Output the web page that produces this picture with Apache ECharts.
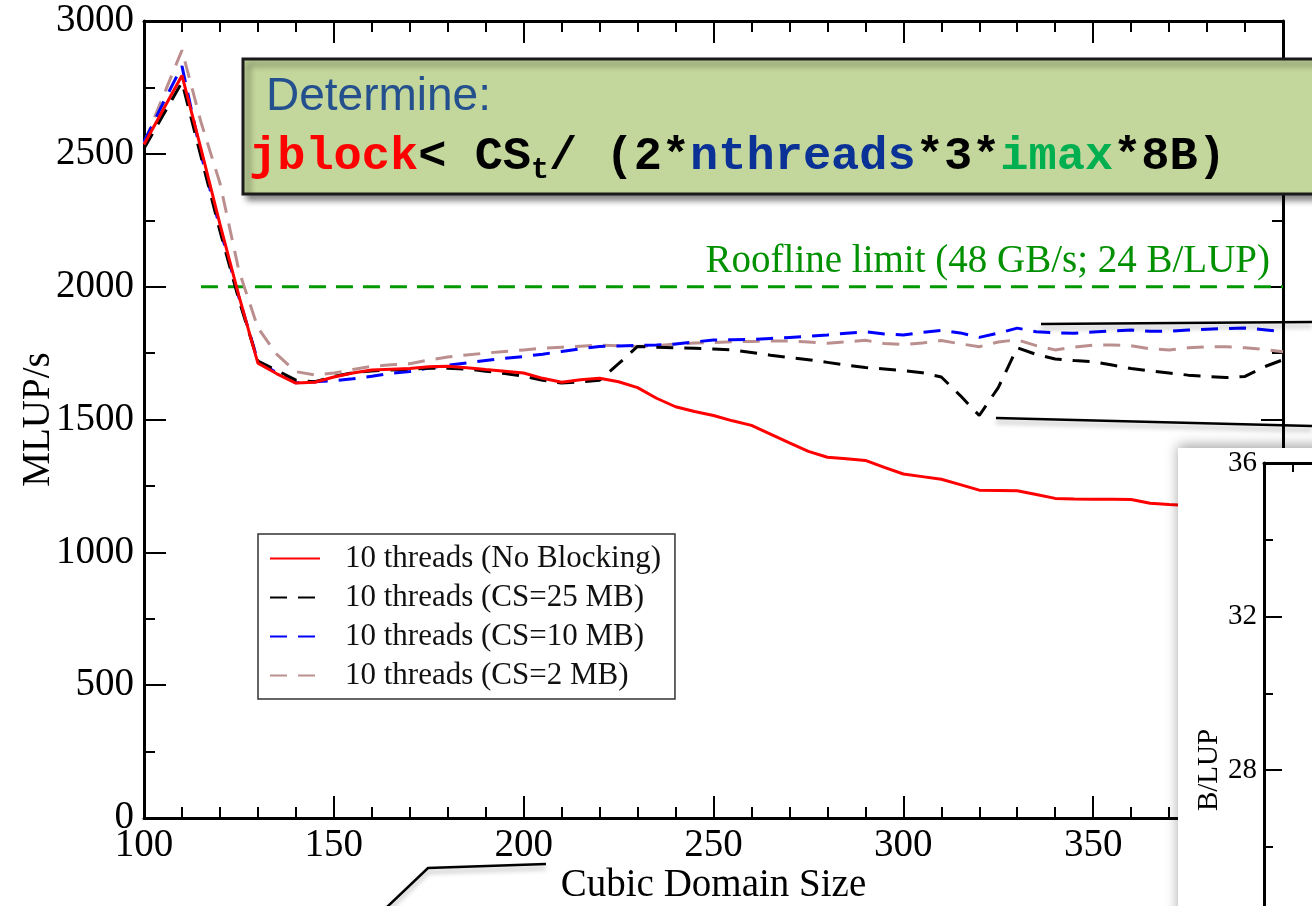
<!DOCTYPE html>
<html>
<head>
<meta charset="utf-8">
<style>
  html, body { margin: 0; padding: 0; background: #fff; }
  #chart { width: 1312px; height: 906px; }
</style>
<script src="https://cdn.jsdelivr.net/npm/echarts@6/dist/echarts.min.js"></script>
</head>
<body>
<div id="chart"></div>
<script>
// cubic domain sizes (x), every 5
const sizes = [
  100, 105, 110, 115, 120, 125, 130, 135, 140, 145, 150, 155, 160, 165, 170, 175,
  180, 185, 190, 195, 200, 205, 210, 215, 220, 225, 230, 235, 240, 245, 250, 255,
  260, 265, 270, 275, 280, 285, 290, 295, 300, 305, 310, 315, 320, 325, 330, 335,
  340, 345, 350, 355, 360, 365, 370, 375, 380, 385, 390, 395, 400
]

// MLUP/s
const noBlocking = [
  2535, 2665, 2795, 2520, 2235, 1965, 1712, 1672, 1637, 1640, 1660, 1675, 1686, 1689, 1692, 1699,
  1700, 1695, 1688, 1682, 1675, 1655, 1640, 1650, 1655, 1642, 1620, 1580, 1548, 1530, 1515, 1495,
  1478, 1445, 1412, 1380, 1358, 1352, 1346, 1320, 1295, 1285, 1275, 1255, 1234, 1233, 1232, 1218,
  1203, 1201, 1200, 1200, 1199, 1185, 1180, 1176
]
const cs25 = [
  2520, 2645, 2770, 2490, 2210, 1950, 1720, 1685, 1648, 1642, 1662, 1676, 1683, 1686, 1690, 1693,
  1693, 1690, 1682, 1673, 1663, 1648, 1637, 1642, 1648, 1710, 1775, 1772, 1770, 1768, 1765, 1762,
  1752, 1742, 1733, 1725, 1715, 1705, 1696, 1690, 1684, 1676, 1660, 1590, 1515, 1620, 1770, 1745,
  1728, 1722, 1718, 1705, 1692, 1683, 1675, 1667, 1662, 1658, 1662, 1698, 1725
]
const cs10 = [
  2545, 2690, 2830, 2500, 2220, 1960, 1720, 1675, 1638, 1642, 1646, 1653, 1663, 1674, 1681, 1694,
  1704, 1713, 1722, 1730, 1737, 1746, 1756, 1766, 1775, 1777, 1779, 1780, 1784, 1792, 1799, 1800,
  1801, 1805, 1809, 1813, 1818, 1825, 1830, 1822, 1818, 1828, 1835, 1826, 1809, 1825, 1844, 1830,
  1826, 1825, 1829, 1833, 1837, 1832, 1832, 1837, 1840, 1842, 1844, 1838, 1830
]
const cs2 = [
  2540, 2715, 2890, 2620, 2390, 2060, 1845, 1745, 1680, 1668, 1675, 1688, 1700, 1706, 1710, 1724,
  1735, 1743, 1750, 1756, 1762, 1768, 1772, 1776, 1780, 1778, 1775, 1778, 1784, 1788, 1790, 1793,
  1794, 1795, 1796, 1792, 1787, 1792, 1798, 1786, 1782, 1788, 1797, 1785, 1774, 1792, 1800, 1778,
  1762, 1772, 1780, 1780, 1778, 1766, 1762, 1770, 1774, 1774, 1770, 1764, 1755
]

// roofline: 48 GB/s at 24 B/LUP
const rooflineX = [115, 400]
const rooflineY = [2000, 2000]

const seriesNames = [
  '10 threads (No Blocking)',
  '10 threads (CS=25 MB)',
  '10 threads (CS=10 MB)',
  '10 threads (CS=2 MB)',
]

const serif = '"Liberation Serif", "Times New Roman", serif'
const mono = '"Liberation Mono", "Courier New", monospace'

function pairs(xs, ys) {
  return ys.map((v, i) => [xs[i], v])
}

function frameAxis(extra) {
  return Object.assign({
    type: 'value',
    axisLine: { onZero: false, lineStyle: { color: '#000', width: 3 } },
    axisTick: { inside: true, length: 22, lineStyle: { color: '#000', width: 2 } },
    minorTick: { show: true, length: 11, lineStyle: { color: '#000', width: 2 } },
    splitLine: { show: false },
    minorSplitLine: { show: false },
    axisLabel: { color: '#000', fontFamily: serif, fontSize: 39, formatter: (v) => String(v) },
  }, extra)
}

function lineSeries(name, vals, color, dashed) {
  return {
    name,
    type: 'line',
    xAxisIndex: 0,
    yAxisIndex: 0,
    data: pairs(sizes, vals),
    symbol: 'none',
    smooth: false,
    lineStyle: { color, width: 3, type: dashed ? [17, 11] : 'solid' },
    itemStyle: { color },
  }
}

function richStyle(size, color) {
  return { fontFamily: mono, fontWeight: 'bold', fontSize: size, lineHeight: size > 40 ? 56 : 30, fill: color }
}

const chart = echarts.init(document.getElementById('chart'))

chart.setOption({
  backgroundColor: '#ffffff',
  animation: false,
  grid: [
    { left: 144, right: 29, top: 21, bottom: 88, outerBoundsMode: 'none', containLabel: false },
    { left: 1264, top: 463, width: 348, height: 614, outerBoundsMode: 'none', containLabel: false },
  ],
  legend: {
    orient: 'vertical',
    left: 258,
    top: 534,
    data: seriesNames,
    itemWidth: 50,
    itemHeight: 14,
    itemGap: 8,
    padding: [9, 14, 8, 11],
    borderColor: '#333',
    borderWidth: 1.5,
    backgroundColor: '#fff',
    selectedMode: false,
    itemStyle: { opacity: 0 },
    textStyle: { fontFamily: serif, fontSize: 31, color: '#111', lineHeight: 31, padding: [0, 0, 0, 20] },
  },
  xAxis: [
    frameAxis({
      gridIndex: 0, position: 'bottom', min: 100, max: 400, interval: 50,
      minorTick: { show: true, splitNumber: 5, length: 11, lineStyle: { color: '#000', width: 2 } },
      axisLabel: { color: '#000', fontFamily: serif, fontSize: 39, margin: 8, formatter: (v) => String(v) },
      name: 'Cubic Domain Size', nameLocation: 'middle', nameGap: 48, nameMoveOverlap: false,
      nameTextStyle: { color: '#000', fontFamily: serif, fontSize: 39 },
    }),
    frameAxis({
      gridIndex: 0, position: 'top', min: 100, max: 400, interval: 50,
      minorTick: { show: true, splitNumber: 5, length: 11, lineStyle: { color: '#000', width: 2 } },
      axisLabel: { show: false },
    }),
    frameAxis({
      gridIndex: 1, position: 'top', min: 100, max: 400, interval: 50, z: 20,
      axisTick: { inside: true, length: 18, lineStyle: { color: '#000', width: 2 } },
      minorTick: { show: true, splitNumber: 2, length: 9, lineStyle: { color: '#000', width: 2 } },
      axisLabel: { show: false },
    }),
  ],
  yAxis: [
    frameAxis({
      gridIndex: 0, position: 'left', min: 0, max: 3000, interval: 500,
      minorTick: { show: true, splitNumber: 2, length: 11, lineStyle: { color: '#000', width: 2 } },
      axisLabel: { color: '#000', fontFamily: serif, fontSize: 39, margin: 10, formatter: (v) => String(v) },
      name: 'MLUP/s', nameLocation: 'middle', nameGap: 86, nameMoveOverlap: false,
      nameTextStyle: { color: '#000', fontFamily: serif, fontSize: 39 },
    }),
    frameAxis({
      gridIndex: 0, position: 'right', min: 0, max: 3000, interval: 500,
      minorTick: { show: true, splitNumber: 2, length: 11, lineStyle: { color: '#000', width: 2 } },
      axisLabel: { show: false },
    }),
    frameAxis({
      gridIndex: 1, position: 'left', min: 20, max: 36, interval: 4, z: 20,
      axisTick: { inside: true, length: 18, lineStyle: { color: '#000', width: 2 } },
      minorTick: { show: true, splitNumber: 2, length: 9, lineStyle: { color: '#000', width: 2 } },
      axisLabel: { color: '#000', fontFamily: serif, fontSize: 29, margin: 7, formatter: (v) => String(v) },
      name: 'B/LUP', nameLocation: 'middle', nameGap: 40, nameMoveOverlap: false,
      nameTextStyle: { color: '#000', fontFamily: serif, fontSize: 29 },
    }),
  ],
  series: [
    {
      name: 'Roofline',
      type: 'line',
      data: pairs(rooflineX, rooflineY),
      symbol: 'none',
      lineStyle: { color: '#009a00', width: 3, type: [17, 10] },
    },
    lineSeries(seriesNames[3], cs2, '#bc8f8f', true),
    lineSeries(seriesNames[2], cs10, '#0000ff', true),
    lineSeries(seriesNames[1], cs25, '#000000', true),
    lineSeries(seriesNames[0], noBlocking, '#ff0000', false),
  ],
  graphic: [
    // white panel of the B/LUP inset covering the lower right
    {
      type: 'rect', z: 10,
      shape: { x: 1178, y: 448, width: 200, height: 500 },
      style: { fill: '#fff', shadowBlur: 12, shadowOffsetY: -3, shadowColor: 'rgba(0,0,0,0.35)' },
    },
    {
      type: 'text', z: 12,
      style: {
        text: 'Roofline limit (48 GB/s; 24 B/LUP)', x: 1270, y: 262,
        align: 'right', verticalAlign: 'middle',
        font: '39px "Liberation Serif", serif', fill: '#009000',
      },
    },
    // callout lines
    {
      type: 'polyline', z: 35,
      shape: { points: [[1041, 324], [1312, 322]] },
      style: { stroke: '#000', lineWidth: 2.5, shadowBlur: 5, shadowOffsetY: 4, shadowColor: 'rgba(0,0,0,0.3)' },
    },
    {
      type: 'polyline', z: 35,
      shape: { points: [[996, 418], [1312, 426]] },
      style: { stroke: '#000', lineWidth: 2.5, shadowBlur: 5, shadowOffsetY: 4, shadowColor: 'rgba(0,0,0,0.3)' },
    },
    {
      type: 'polyline', z: 35,
      shape: { points: [[386, 908], [428, 868], [546, 864]] },
      style: { stroke: '#000', lineWidth: 2.5, shadowBlur: 5, shadowOffsetY: 4, shadowColor: 'rgba(0,0,0,0.3)' },
    },
    // green note box
    {
      type: 'rect', z: 40,
      shape: { x: 243, y: 59, width: 1100, height: 135 },
      style: {
        fill: '#c3d69b', stroke: '#1a1a1a', lineWidth: 3,
        shadowBlur: 6, shadowOffsetX: 5, shadowOffsetY: 5, shadowColor: 'rgba(0,0,0,0.45)',
      },
    },
    {
      type: 'text', z: 41,
      style: {
        text: 'Determine:', x: 266, y: 97, verticalAlign: 'middle',
        font: '46px "Liberation Sans", Arial, sans-serif', fill: '#25508e',
      },
    },
    {
      type: 'text', z: 41,
      style: {
        text: '{r|jblock}{k|< CS}{s|t}{k|/ (2*}{b|nthreads}{k|*3*}{g|imax}{k|*8B)}',
        x: 249, y: 157, verticalAlign: 'middle',
        rich: {
          r: richStyle(47, '#ff0000'),
          k: richStyle(47, '#000000'),
          b: richStyle(47, '#0a3296'),
          g: richStyle(47, '#00b050'),
          s: Object.assign(richStyle(30, '#000000'), { verticalAlign: 'bottom' }),
        },
      },
    },
  ],
})
</script>
</body>
</html>
